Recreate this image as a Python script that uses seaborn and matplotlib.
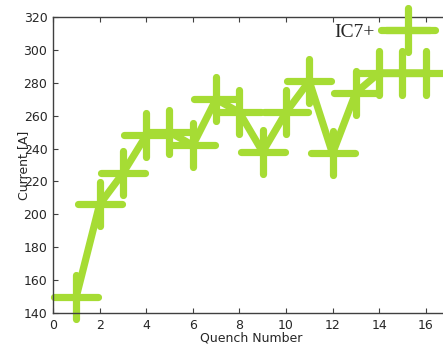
import matplotlib
matplotlib.use("Agg")
import matplotlib.pyplot as plt
from matplotlib.markers import MarkerStyle
import seaborn as sns
import pandas as pd

# Quench training history of magnet IC7+
quench_number = [1, 2, 3, 4, 5, 6, 7, 8, 9, 10, 11, 12, 13, 14, 15, 16]
current_a = [150, 206, 225, 248, 250, 242, 270, 262, 238, 262, 281, 237, 274, 286, 286, 286]
series_label = "IC7+"

x_ticks = [0, 2, 4, 6, 8, 10, 12, 14, 16]
y_ticks = [140, 160, 180, 200, 220, 240, 260, 280, 300, 320]

df = pd.DataFrame({"Quench Number": quench_number, "Current [A]": current_a})

sns.set_style("white")
plt.rcParams["font.family"] = ["DejaVu Sans"]

color = "#a6dc34"
spine_color = "#404040"

fig = plt.figure(figsize=(4.43, 3.51), dpi=100)
ax = fig.add_axes([53 / 443, 38 / 351, 396 / 443, 296 / 351])

plus = MarkerStyle("+", capstyle="round")
sns.lineplot(
    data=df, x="Quench Number", y="Current [A]", ax=ax,
    color=color, linewidth=5.2, marker=plus, markersize=32,
    markeredgewidth=5.2, markeredgecolor=color, clip_on=False,
    solid_joinstyle="round", solid_capstyle="round",
    label=series_label, legend=False,
)

ax.set_xlim(0, 17)
ax.set_ylim(140, 320)
ax.set_xticks(x_ticks)
ax.set_yticks(y_ticks)

for side in ["left", "bottom", "top"]:
    ax.spines[side].set_visible(True)
    ax.spines[side].set_color(spine_color)
    ax.spines[side].set_linewidth(1.0)
ax.spines["right"].set_visible(False)

ax.tick_params(axis="x", which="both", direction="in", length=3.5, width=0.8,
               color=spine_color, top=True, bottom=True, labelsize=9, pad=4)
ax.tick_params(axis="y", which="both", direction="in", length=3.5, width=0.8,
               color=spine_color, left=True, right=False, labelsize=9, pad=4)

ax.set_xlabel("Quench Number", fontsize=9, labelpad=0)
ax.set_ylabel("Current [A]", fontsize=9, labelpad=-5)

handles, labels = ax.get_legend_handles_labels()
leg = ax.legend(
    handles, labels, loc="center right",
    bbox_to_anchor=(435 / 443, 1 - 32 / 351), bbox_transform=fig.transFigure,
    frameon=False, markerfirst=False, handlelength=2.8, handletextpad=0.3,
    borderpad=0, borderaxespad=0,
    prop={"family": "Liberation Serif", "size": 14},
)

fig.savefig("out.png", dpi=100)
